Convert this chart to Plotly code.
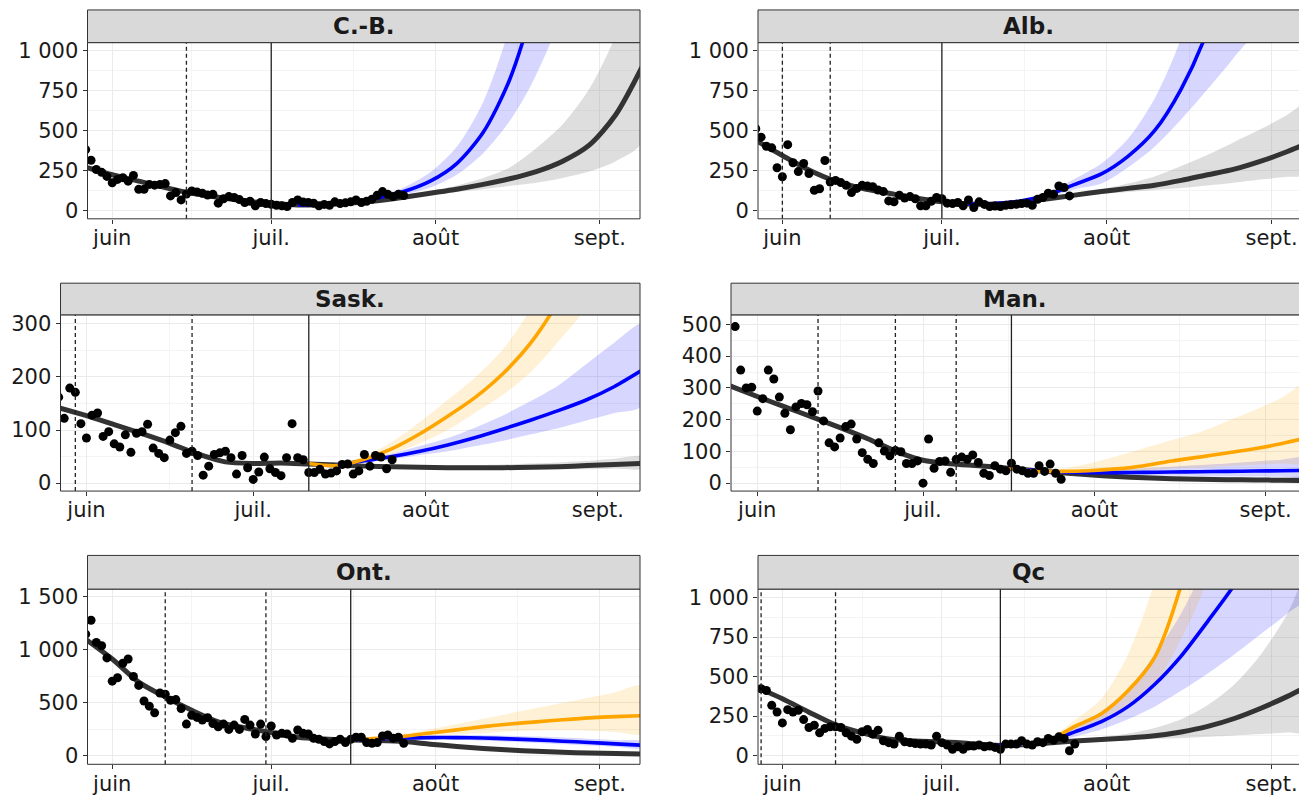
import plotly.graph_objects as go
import pandas as pd

# ---------------- data ----------------
FIT_DATES = ['2021-05-27', '2021-06-01', '2021-06-06', '2021-06-11', '2021-06-16', '2021-06-21',
             '2021-06-26', '2021-07-01', '2021-07-06', '2021-07-11', '2021-07-16', '2021-07-21',
             '2021-07-26', '2021-07-31', '2021-08-05', '2021-08-10', '2021-08-15', '2021-08-20',
             '2021-08-25', '2021-08-30', '2021-09-04', '2021-09-09']
FC_DATES = ['2021-07-06', '2021-07-11', '2021-07-16', '2021-07-21', '2021-07-26', '2021-07-31',
            '2021-08-05', '2021-08-10', '2021-08-15', '2021-08-20', '2021-08-25', '2021-08-30',
            '2021-09-04', '2021-09-09']

MONTH_TICKS = ['2021-06-01', '2021-07-01', '2021-08-01', '2021-09-01']
MONTH_LABELS = ['juin', 'juil.', 'août', 'sept.']
MINOR_X = ['2021-06-16', '2021-07-16 12:00', '2021-08-16 12:00']

# --- C.-B.
CB_obs_start = '2021-05-27'
CB_obs = [382, 316, 258, 240, 215,
          175, 196, 207, 185, 221, 134, 134, 165, 160, 165, 170, 93, 114, 68, 105, 124, 118, 110, 98, 103,
          48, 75, 89, 83, 70, 52, 60, 31, 52, 45,
          41, 35, 31, 27, 52, 68, 55, 52, 48, 31, 40, 35, 56, 45, 50, 56, 68, 52, 60, 72, 97, 120, 103, 89, 103, 95]
CB_fit = [272, 225, 185, 145, 110, 85, 62, 45, 37, 38, 48, 63, 85, 110, 135, 165, 200, 245, 310, 410, 600, 900]
CB_grey_lo = [None, None, None, None, 80, 100, 118, 135, 155, 175, 205, 245, 310, 430]
CB_grey_hi = [None, None, None, None, 92, 122, 158, 205, 270, 390, 540, 760, 1100, 1700]
CB_blue = [37, 40, 55, 80, 120, 185, 295, 490, 820, 1350, 2200, None, None, None]
CB_blue_lo = [35, 37, 50, 70, 100, 145, 225, 360, 560, 850, 1300, None, None, None]
CB_blue_hi = [39, 44, 62, 92, 145, 240, 400, 680, 1150, 1900, 3200, None, None, None]
CB_dashed = ['2021-06-15']
CB_solid = '2021-07-01'

# --- Alb.
AB_obs_start = '2021-05-27'
AB_obs = [512, 460, 403, 393, 269,
          213, 413, 300, 245, 296, 233, 128, 138, 314, 180, 190, 176, 159, 114, 140, 159, 155, 150, 130, 120,
          62, 56, 97, 80, 89, 75, 31, 31, 60, 83,
          76, 48, 45, 52, 31, 68, 21, 56, 40, 27, 30, 27, 35, 38, 41, 45, 48, 35, 72, 83, 110, 103, 155, 145, 93]
AB_fit = [440, 345, 255, 185, 140, 110, 80, 56, 43, 42, 55, 75, 98, 120, 140, 160, 190, 225, 260, 310, 370, 440]
AB_grey_lo = [None, None, None, None, 90, 105, 118, 130, 142, 158, 175, 195, 212, 235]
AB_grey_hi = [None, None, None, None, 106, 135, 170, 215, 280, 350, 430, 510, 600, 700]
AB_blue = [42, 45, 62, 100, 165, 230, 340, 500, 760, 1130, 1700, None, None, None]
AB_blue_lo = [40, 42, 56, 85, 135, 170, 270, 400, 570, 760, 960, 1200, None, None]
AB_blue_hi = [44, 49, 70, 118, 200, 295, 450, 700, 1080, 1700, 2600, 4000, None, None]
AB_dashed = ['2021-06-01', '2021-06-10']
AB_solid = '2021-07-01'

# --- Sask.
SK_obs_start = '2021-05-27'
SK_obs = [162, 122, 179, 171, 112,
          85, 128, 132, 88, 97, 74, 68, 91, 58, 94, 97, 111, 66, 56, 48, 81, 95, 107, 56, 60,
          52, 15, 32, 54, 57, 60, 48, 17, 52, 29,
          7, 21, 49, 27, 20, 14, 48, 112, 48, 44, 20, 20, 26, 17, 19, 23, 35, 36, 17, 23, 54, 32, 52, 49, 27, 44]
SK_fit = [142, 127, 110, 93, 75, 55, 40, 37, 38, 36, 34, 32, 31, 30, 29, 29, 29, 30, 31, 33, 35, 37]
SK_grey_lo = [None, 34, 31, 29, 28, 27, 26, 25, 25, 25, 26, 26, 27, 28]
SK_grey_hi = [None, 38, 37, 35, 34, 34, 34, 34, 35, 37, 39, 42, 46, 50]
SK_blue = [None, None, 34, 42, 50, 60, 72, 86, 102, 119, 137, 157, 182, 213]
SK_blue_lo = [None, None, 33, 39, 45, 53, 60, 70, 80, 92, 104, 118, 132, 146]
SK_blue_hi = [None, None, 35, 45, 56, 70, 85, 105, 128, 155, 185, 225, 265, 300]
SK_orange = [None, 37, 33, 45, 65, 93, 126, 162, 207, 265, 345, 450, None, None]
SK_orange_lo = [None, 36, 31, 40, 55, 75, 100, 133, 167, 210, 268, 340, None, None]
SK_orange_hi = [None, 38, 36, 51, 78, 115, 157, 200, 253, 330, 440, 590, None, None]
SK_dashed = ['2021-05-30', '2021-06-20']
SK_solid = '2021-07-11'

# --- Man.
MB_obs_start = '2021-05-28'
MB_obs = [493, 356, 300, 302,
          227, 266, 356, 328, 271, 220, 168, 240, 251, 247, 225, 290, 196, 127, 114, 142, 178, 186, 139, 96,
          75, 62, 127, 101, 86, 103, 99, 62, 62, 70,
          0, 139, 47, 68, 70, 34, 75, 82, 75, 89, 65, 31, 24, 55, 44, 39, 63, 44, 39, 31, 31, 55, 37, 60, 31, 12]
MB_fit = [307, 273, 240, 208, 175, 140, 101, 72, 61, 55, 48, 40, 33, 26, 21, 17, 14, 12, 11, 10, 9, 8]
MB_grey_lo = [None, None, 45, 36, 28, 21, 16, 12, 9, 7, 6, 5, 4, 3]
MB_grey_hi = [None, None, 51, 44, 38, 32, 28, 25, 22, 20, 19, 18, 18, 18]
MB_blue = [None, None, 48, 40, 35, 33, 33, 34, 35, 36, 37, 38, 39, 40]
MB_blue_lo = [None, None, 46, 37, 31, 27, 25, 24, 23, 22, 21, 21, 20, 20]
MB_blue_hi = [None, None, 50, 44, 41, 41, 44, 48, 52, 57, 62, 68, 74, 80]
MB_orange = [None, None, 47, 38, 37, 39, 45, 55, 70, 82, 95, 108, 125, 145]
MB_orange_lo = [None, None, 45, 35, 32, 32, 36, 40, 46, 50, 54, 58, 62, 66]
MB_orange_hi = [None, None, 49, 42, 45, 62, 85, 110, 135, 160, 195, 230, 270, 320]
MB_dashed = ['2021-06-12', '2021-06-26', '2021-07-07']
MB_solid = '2021-07-17'

# --- Ont.
ON_obs_start = '2021-05-27'
ON_obs = [1147, 1278, 1069, 1038, 923,
          704, 736, 873, 913, 748, 664, 517, 468, 405, 592, 580, 524, 530, 446, 299, 383, 362, 337, 360, 305,
          274, 299, 249, 290, 249, 343, 290, 206, 299, 181,
          281, 196, 212, 206, 165, 243, 212, 206, 165, 156, 134, 112, 134, 156, 125, 156, 175, 175, 125, 118,
          125, 187, 196, 165, 175, 118]
ON_fit = [1100, 913, 695, 555, 430, 321, 265, 220, 175, 158, 150, 145, 135, 110, 88, 70, 55, 43, 33, 26, 21, 18]
ON_grey_lo = [None, None, 145, 135, 120, 95, 74, 57, 43, 32, 24, 18, 14, 11]
ON_grey_hi = [None, None, 156, 156, 150, 128, 105, 86, 70, 58, 48, 40, 34, 30]
ON_blue = [None, None, 150, 158, 168, 172, 172, 168, 160, 150, 138, 126, 113, 100]
ON_blue_lo = [None, None, 145, 150, 155, 155, 150, 143, 133, 122, 110, 98, 86, 75]
ON_blue_hi = [None, None, 155, 166, 182, 190, 195, 195, 190, 182, 172, 160, 148, 135]
ON_orange = [None, None, 150, 165, 185, 215, 245, 275, 300, 320, 340, 358, 370, 378]
ON_orange_lo = [None, None, 145, 155, 168, 185, 200, 215, 230, 238, 240, 235, 225, 210]
ON_orange_hi = [None, None, 155, 178, 205, 250, 300, 350, 400, 450, 500, 550, 600, 660]
ON_dashed = ['2021-06-11', '2021-06-30']
ON_solid = '2021-07-16'

# --- Qc
QC_obs_start = '2021-05-28'
QC_obs = [423, 412, 318, 276,
          207, 291, 276, 287, 228, 178, 192, 144, 172, 182, 182, 178, 144, 123, 103, 151, 165, 136, 161, 94,
          82, 73, 123, 88, 82, 77, 73, 73, 67, 123,
          82, 67, 40, 56, 40, 61, 61, 67, 56, 61, 52, 40, 73, 73, 73, 94, 73, 67, 88, 82, 109, 98, 119, 109, 31, 73]
QC_fit = [435, 360, 275, 195, 144, 105, 92, 88, 77, 65, 68, 80, 92, 102, 112, 126, 150, 185, 235, 300, 375, 460]
QC_grey_lo = [None, None, 65, 75, 84, 92, 98, 105, 112, 120, 128, 137, 146, 155]
QC_grey_hi = [None, None, 72, 87, 102, 118, 140, 175, 230, 320, 450, 640, 900, 1250]
QC_blue = [None, 64, 70, 92, 150, 215, 310, 450, 630, 850, 1080, 1350, None, None]
QC_blue_lo = [None, 62, 66, 82, 120, 165, 230, 310, 410, 520, 640, 770, 900, 1050]
QC_blue_hi = [None, 66, 75, 104, 185, 280, 420, 640, 900, 1250, 1700, 2300, 2900, 3500]
QC_orange = [None, None, 70, 95, 185, 265, 410, 620, 1080, 1800, None, None, None, None]
QC_orange_lo = [None, None, 68, 88, 155, 205, 300, 450, 740, 1150, None, None, None, None]
QC_orange_hi = [None, None, 72, 105, 225, 360, 640, 1100, 1800, 2800, None, None, None, None]
QC_dashed = ['2021-05-28', '2021-06-11']
QC_solid = '2021-07-12'

# y tick definitions
Y1000_TICKS = [0, 250, 500, 750, 1000]
Y1000_LABELS = ['0', '250', '500', '750', '1 000']
Y1000_MINOR = [125, 375, 625, 875]
Y300_TICKS = [0, 100, 200, 300]
Y300_LABELS = ['0', '100', '200', '300']
Y300_MINOR = [50, 150, 250]
Y500_TICKS = [0, 100, 200, 300, 400, 500]
Y500_LABELS = ['0', '100', '200', '300', '400', '500']
Y500_MINOR = [50, 150, 250, 350, 450]
Y1500_TICKS = [0, 500, 1000, 1500]
Y1500_LABELS = ['0', '500', '1 000', '1 500']
Y1500_MINOR = [250, 750, 1250]

# ---------------- layout helpers ----------------
W, H = 1299, 799
FONT = 'DejaVu Sans, Verdana, sans-serif'

BLUE = '#0000FF'
ORANGE = '#FFA500'
GREY_LINE = '#333333'
BLUE_FILL = 'rgba(0,0,255,0.16)'
ORANGE_FILL = 'rgba(255,165,0,0.16)'
GREY_FILL = 'rgba(153,153,153,0.32)'

panels = [
    dict(title='C.-B.', px=(87.5, 640), py=(39, 217), strip=6,
         xr=['2021-05-27 08:00', '2021-09-08 14:00'], yr=[-50, 1050],
         yt=(Y1000_TICKS, Y1000_LABELS, Y1000_MINOR),
         obs=(CB_obs_start, CB_obs), fit=CB_fit, grey=(CB_grey_lo, CB_grey_hi),
         blue=(CB_blue, CB_blue_lo, CB_blue_hi), orange=None,
         dashed=CB_dashed, solid=CB_solid),
    dict(title='Alb.', px=(758, 1299), py=(39, 217), strip=6,
         xr=['2021-05-27 10:00', '2021-09-06 04:00'], yr=[-50, 1050],
         yt=(Y1000_TICKS, Y1000_LABELS, Y1000_MINOR),
         obs=(AB_obs_start, AB_obs), fit=AB_fit, grey=(AB_grey_lo, AB_grey_hi),
         blue=(AB_blue, AB_blue_lo, AB_blue_hi), orange=None,
         dashed=AB_dashed, solid=AB_solid),
    dict(title='Sask.', px=(60.5, 640), py=(314, 492), strip=282,
         xr=['2021-05-27 08:00', '2021-09-08 14:00'], yr=[-15, 317],
         yt=(Y300_TICKS, Y300_LABELS, Y300_MINOR),
         obs=(SK_obs_start, SK_obs), fit=SK_fit, grey=(SK_grey_lo, SK_grey_hi),
         blue=(SK_blue, SK_blue_lo, SK_blue_hi), orange=(SK_orange, SK_orange_lo, SK_orange_hi),
         dashed=SK_dashed, solid=SK_solid),
    dict(title='Man.', px=(731, 1299), py=(314, 492), strip=282,
         xr=['2021-05-27 06:00', '2021-09-07 01:00'], yr=[-25, 530],
         yt=(Y500_TICKS, Y500_LABELS, Y500_MINOR),
         obs=(MB_obs_start, MB_obs), fit=MB_fit, grey=(MB_grey_lo, MB_grey_hi),
         blue=(MB_blue, MB_blue_lo, MB_blue_hi), orange=(MB_orange, MB_orange_lo, MB_orange_hi),
         dashed=MB_dashed, solid=MB_solid),
    dict(title='Ont.', px=(87.5, 640), py=(591, 768), strip=557,
         xr=['2021-05-27 08:00', '2021-09-08 14:00'], yr=[-80, 1572],
         yt=(Y1500_TICKS, Y1500_LABELS, Y1500_MINOR),
         obs=(ON_obs_start, ON_obs), fit=ON_fit, grey=(ON_grey_lo, ON_grey_hi),
         blue=(ON_blue, ON_blue_lo, ON_blue_hi), orange=(ON_orange, ON_orange_lo, ON_orange_hi),
         dashed=ON_dashed, solid=ON_solid),
    dict(title='Qc', px=(758, 1299), py=(591, 768), strip=557,
         xr=['2021-05-27 10:00', '2021-09-06 04:00'], yr=[-55, 1054],
         yt=(Y1000_TICKS, Y1000_LABELS, Y1000_MINOR),
         obs=(QC_obs_start, QC_obs), fit=QC_fit, grey=(QC_grey_lo, QC_grey_hi),
         blue=(QC_blue, QC_blue_lo, QC_blue_hi), orange=(QC_orange, QC_orange_lo, QC_orange_hi),
         dashed=QC_dashed, solid=QC_solid),
]


def fx(p):
    return p / W


def fy(p):
    return 1 - p / H


def keep(dates, *cols):
    rows = [r for r in zip(dates, *cols) if all(v is not None for v in r[1:])]
    return [list(c) for c in zip(*rows)] if rows else [[] for _ in range(len(cols) + 1)]


fig = go.Figure()
shapes = []
annotations = []

for i, p in enumerate(panels, start=1):
    xa = 'x' if i == 1 else f'x{i}'
    ya = 'y' if i == 1 else f'y{i}'

    def band(lo, hi, color):
        d, l, h = keep(FC_DATES, lo, hi)
        fig.add_trace(go.Scatter(x=d + d[::-1], y=h + l[::-1], fill='toself', fillcolor=color,
                                 line=dict(width=0, shape='spline', smoothing=0.8), mode='lines',
                                 hoverinfo='skip', xaxis=xa, yaxis=ya))

    def curve(dates, vals, color, width):
        d, v = keep(dates, vals)
        fig.add_trace(go.Scatter(x=d, y=v, mode='lines',
                                 line=dict(color=color, width=width, shape='spline', smoothing=0.8),
                                 hoverinfo='skip', xaxis=xa, yaxis=ya))

    band(p['grey'][0], p['grey'][1], GREY_FILL)
    band(p['blue'][1], p['blue'][2], BLUE_FILL)
    if p['orange']:
        band(p['orange'][1], p['orange'][2], ORANGE_FILL)
    curve(FIT_DATES, p['fit'], GREY_LINE, 5)
    curve(FC_DATES, p['blue'][0], BLUE, 3.6)
    if p['orange']:
        curve(FC_DATES, p['orange'][0], ORANGE, 3.6)

    start, vals = p['obs']
    obs_dates = pd.date_range(start, periods=len(vals), freq='D')
    fig.add_trace(go.Scatter(x=obs_dates, y=vals, mode='markers',
                             marker=dict(color='black', size=9), cliponaxis=True,
                             hoverinfo='skip', xaxis=xa, yaxis=ya))

    x0, x1 = fx(p['px'][0]), fx(p['px'][1])
    ytop, ybot = fy(p['py'][0]), fy(p['py'][1])
    yt, ytl, ymin = p['yt']
    axis_font = dict(family=FONT, size=21, color='#1a1a1a')
    fig.layout[('xaxis' if i == 1 else f'xaxis{i}')] = dict(
        domain=[x0, x1], anchor=ya, type='date', range=p['xr'],
        tickmode='array', tickvals=MONTH_TICKS, ticktext=MONTH_LABELS,
        showgrid=True, gridcolor='#EBEBEB', gridwidth=1.2, zeroline=False, showline=False,
        ticks='outside', ticklen=4, tickcolor='#333333', tickwidth=1, tickfont=axis_font,
        ticklabelstandoff=-4,
        minor=dict(tickmode='array', tickvals=MINOR_X, showgrid=True, gridcolor='#F4F4F4', gridwidth=1, ticks=''),
        fixedrange=True)
    fig.layout[('yaxis' if i == 1 else f'yaxis{i}')] = dict(
        domain=[ybot, ytop], anchor=xa, range=p['yr'],
        tickmode='array', tickvals=yt, ticktext=ytl,
        showgrid=True, gridcolor='#EBEBEB', gridwidth=1.2, zeroline=False, showline=False,
        ticks='outside', ticklen=4, tickcolor='#333333', tickwidth=1, tickfont=axis_font,
        minor=dict(tickmode='array', tickvals=ymin, showgrid=True, gridcolor='#F4F4F4', gridwidth=1, ticks=''),
        fixedrange=True)

    # vertical reference lines
    for d in p['dashed']:
        shapes.append(dict(type='line', xref=xa, yref='paper', x0=d, x1=d, y0=ybot, y1=ytop,
                           line=dict(color='#222222', width=1.3, dash='4px,3px'), layer='above'))
    shapes.append(dict(type='line', xref=xa, yref='paper', x0=p['solid'], x1=p['solid'], y0=ybot, y1=ytop,
                       line=dict(color='#222222', width=1.3), layer='above'))

    # panel border and strip
    right = x1 if x1 < 0.999 else 1.01
    shapes.append(dict(type='rect', xref='paper', yref='paper', x0=x0, x1=right, y0=ybot, y1=ytop,
                       line=dict(color='#333333', width=1), fillcolor='rgba(0,0,0,0)', layer='above'))
    shapes.append(dict(type='rect', xref='paper', yref='paper', x0=x0, x1=right, y0=ytop, y1=fy(p['strip']),
                       line=dict(color='#333333', width=1), fillcolor='#D9D9D9', layer='above'))
    annotations.append(dict(xref='paper', yref='paper', x=(x0 + x1) / 2, y=(ytop + fy(p['strip'])) / 2,
                            text=f"<b>{p['title']}</b>", showarrow=False, xanchor='center', yanchor='middle',
                            font=dict(family=FONT, size=23, color='#1a1a1a')))

fig.update_layout(width=W, height=H, margin=dict(l=0, r=0, t=0, b=0),
                  paper_bgcolor='white', plot_bgcolor='white', showlegend=False,
                  shapes=shapes, annotations=annotations,
                  font=dict(family=FONT, size=21, color='#1a1a1a'))

fig.write_html("out.html", config={'displayModeBar': False},
               post_script="document.body.style.margin='0';document.body.style.overflow='hidden';")
